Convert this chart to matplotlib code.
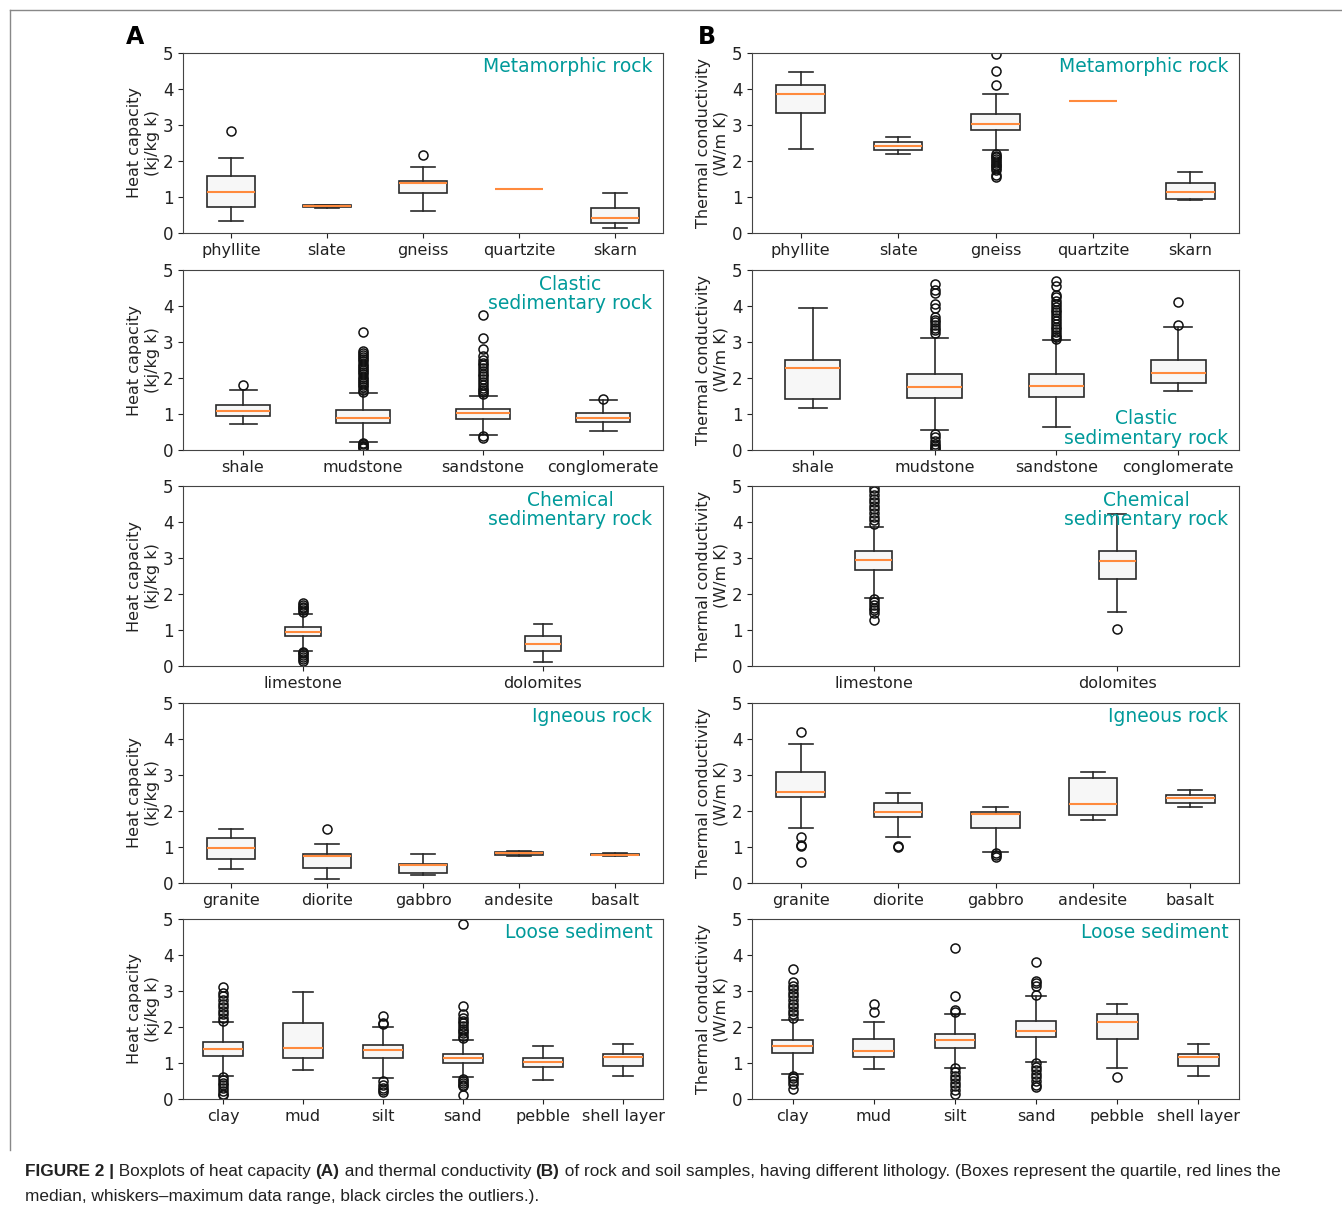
import matplotlib
matplotlib.use("Agg")
import matplotlib.pyplot as plt
from matplotlib.lines import Line2D

# box stats per category: [whislo, q1, med, q3, whishi]
meta_names = ["phyllite", "slate", "gneiss", "quartzite", "skarn"]
meta_hc = [[0.33, 0.72, 1.15, 1.57, 2.08], [0.70, 0.71, 0.74, 0.78, 0.79],
           [0.60, 1.10, 1.40, 1.45, 1.83], [1.22, 1.22, 1.22, 1.22, 1.22],
           [0.15, 0.29, 0.42, 0.70, 1.10]]
meta_hc_out = [[2.82], [], [2.18], [], []]
meta_tc = [[2.33, 3.32, 3.87, 4.10, 4.48], [2.20, 2.30, 2.42, 2.52, 2.68],
           [2.30, 2.87, 3.02, 3.30, 3.85], [3.68, 3.68, 3.68, 3.68, 3.68],
           [0.92, 0.94, 1.15, 1.38, 1.70]]
meta_tc_out = [[], [],
               [4.10, 4.50, 4.98, 2.20, 2.15, 2.10, 2.05, 2.00, 1.95, 1.90,
                1.85, 1.80, 1.75, 1.60, 1.55], [], []]

clast_names = ["shale", "mudstone", "sandstone", "conglomerate"]
clast_hc = [[0.72, 0.95, 1.08, 1.25, 1.68], [0.22, 0.75, 0.88, 1.10, 1.58],
            [0.42, 0.85, 1.03, 1.13, 1.50], [0.52, 0.78, 0.88, 1.03, 1.40]]
clast_hc_out = [[1.80],
                [1.62, 1.68, 1.74, 1.80, 1.86, 1.92, 1.98, 2.04, 2.10, 2.16,
                 2.22, 2.28, 2.34, 2.40, 2.46, 2.52, 2.58, 2.64, 2.70, 2.75,
                 3.27, 0.20, 0.16, 0.12, 0.08, 0.05],
                [1.55, 1.60, 1.66, 1.72, 1.80, 1.88, 1.96, 2.05, 2.12, 2.20,
                 2.28, 2.35, 2.42, 2.50, 2.60, 2.80, 3.12, 3.75, 0.38, 0.33],
                [1.43]]
clast_tc = [[1.18, 1.42, 2.28, 2.50, 3.95], [0.55, 1.45, 1.75, 2.12, 3.10],
            [0.65, 1.47, 1.78, 2.12, 3.05], [1.63, 1.85, 2.15, 2.50, 3.43]]
clast_tc_out = [[],
                [3.25, 3.32, 3.40, 3.48, 3.55, 3.62, 3.70, 3.95, 4.05, 4.35,
                 4.45, 4.60, 0.45, 0.35, 0.25, 0.18, 0.12, 0.06, 0.02],
                [3.08, 3.14, 3.20, 3.28, 3.35, 3.42, 3.50, 3.58, 3.66, 3.74,
                 3.82, 3.90, 3.98, 4.06, 4.15, 4.25, 4.30, 4.55, 4.70],
                [3.48, 4.10]]

chem_names = ["limestone", "dolomites"]
chem_hc = [[0.42, 0.83, 0.95, 1.07, 1.45], [0.10, 0.42, 0.62, 0.82, 1.17]]
chem_hc_out = [[1.50, 1.55, 1.60, 1.65, 1.70, 1.75, 0.40, 0.35, 0.30,
                0.25, 0.20, 0.15], []]
chem_tc = [[1.90, 2.67, 2.95, 3.20, 3.87], [1.50, 2.43, 2.92, 3.20, 4.22]]
chem_tc_out = [[3.95, 4.05, 4.15, 4.25, 4.35, 4.45, 4.55, 4.65, 4.75, 4.85,
                4.95, 1.85, 1.78, 1.70, 1.62, 1.55, 1.48, 1.27], [1.02]]

ign_names = ["granite", "diorite", "gabbro", "andesite", "basalt"]
ign_hc = [[0.40, 0.68, 0.98, 1.25, 1.50], [0.10, 0.42, 0.76, 0.80, 1.08],
          [0.22, 0.27, 0.50, 0.53, 0.80], [0.75, 0.77, 0.83, 0.86, 0.90],
          [0.75, 0.77, 0.79, 0.80, 0.82]]
ign_hc_out = [[], [1.50], [], [], []]
ign_tc = [[1.53, 2.40, 2.52, 3.08, 3.87], [1.27, 1.83, 1.98, 2.23, 2.50],
          [0.85, 1.53, 1.93, 1.98, 2.12], [1.75, 1.88, 2.20, 2.92, 3.08],
          [2.10, 2.23, 2.35, 2.45, 2.57]]
ign_tc_out = [[4.20, 1.27, 1.05, 1.02, 0.58], [1.02, 0.99],
              [0.83, 0.78, 0.72], [], []]

loose_names = ["clay", "mud", "silt", "sand", "pebble", "shell layer"]
loose_hc = [[0.63, 1.20, 1.40, 1.57, 2.13], [0.80, 1.13, 1.43, 2.12, 2.98],
            [0.57, 1.13, 1.35, 1.50, 2.00], [0.60, 1.00, 1.15, 1.25, 1.65],
            [0.52, 0.88, 1.02, 1.13, 1.48], [0.65, 0.92, 1.17, 1.25, 1.52]]
loose_hc_out = [[2.18, 2.25, 2.35, 2.45, 2.55, 2.65, 2.75, 2.85, 2.95, 3.10,
                 0.60, 0.52, 0.45, 0.38, 0.30, 0.22, 0.15, 0.10],
                [],
                [2.08, 2.12, 2.30, 0.50, 0.40, 0.30, 0.25, 0.20],
                [1.70, 1.76, 1.82, 1.88, 1.95, 2.02, 2.10, 2.18, 2.26, 2.35,
                 2.58, 4.87, 0.55, 0.50, 0.45, 0.40, 0.35, 0.10],
                [], []]
loose_tc = [[0.70, 1.27, 1.47, 1.65, 2.20], [0.83, 1.18, 1.33, 1.68, 2.13],
            [0.87, 1.42, 1.63, 1.80, 2.37], [1.03, 1.72, 1.90, 2.18, 2.85],
            [0.85, 1.67, 2.13, 2.35, 2.63], [0.65, 0.92, 1.17, 1.25, 1.52]]
loose_tc_out = [[2.25, 2.35, 2.45, 2.55, 2.65, 2.75, 2.85, 2.95, 3.05, 3.15,
                 3.25, 3.62, 0.65, 0.58, 0.50, 0.42, 0.28],
                [2.42, 2.65],
                [2.43, 2.47, 2.85, 4.20, 0.85, 0.75, 0.65, 0.55, 0.45, 0.35,
                 0.25, 0.15],
                [2.90, 3.15, 3.22, 3.27, 3.80, 1.00, 0.90, 0.80, 0.70, 0.60,
                 0.50, 0.40, 0.33],
                [0.60], []]

groups = ["Metamorphic rock", "Clastic\nsedimentary rock",
          "Chemical\nsedimentary rock", "Igneous rock", "Loose sediment"]

rows = [(meta_names, meta_hc, meta_hc_out, meta_tc, meta_tc_out),
        (clast_names, clast_hc, clast_hc_out, clast_tc, clast_tc_out),
        (chem_names, chem_hc, chem_hc_out, chem_tc, chem_tc_out),
        (ign_names, ign_hc, ign_hc_out, ign_tc, ign_tc_out),
        (loose_names, loose_hc, loose_hc_out, loose_tc, loose_tc_out)]

W, H = 1342, 1211
fig = plt.figure(figsize=(W / 100, H / 100), dpi=100)
teal = "#009a9a"


def make_stats(names, boxes, outs):
    st = []
    for n, b, o in zip(names, boxes, outs):
        st.append(dict(label=n, whislo=b[0], q1=b[1], med=b[2], q3=b[3],
                       whishi=b[4], fliers=o))
    return st


def draw_panel(ax, names, boxes, outs, ylabel, title, title_bottom=False):
    ax.bxp(make_stats(names, boxes, outs), patch_artist=True,
           boxprops=dict(facecolor="#f7f7f7", edgecolor="#2a2a2a", lw=1.2),
           medianprops=dict(color="#ff8a3d", lw=1.5),
           whiskerprops=dict(color="#2a2a2a", lw=1.2),
           capprops=dict(color="#2a2a2a", lw=1.2),
           flierprops=dict(marker="o", markerfacecolor="none",
                           markeredgecolor="#111111", markersize=6.5,
                           markeredgewidth=1.1))
    ax.set_xlim(0.5, len(names) + 0.5)
    ax.set_ylim(0, 5)
    ax.set_yticks([0, 1, 2, 3, 4, 5])
    ax.tick_params(axis="x", labelsize=11.5, colors="#222222")
    ax.tick_params(axis="y", labelsize=12, colors="#222222")
    ax.set_ylabel(ylabel, fontsize=11.5, color="#222222", labelpad=2)
    for s in ax.spines.values():
        s.set_color("#444444")
    if title_bottom:
        ax.text(0.978, 0.01, title, transform=ax.transAxes, ha="right",
                va="bottom", ma="center", fontsize=13.5, color=teal,
                linespacing=1.05)
    else:
        ax.text(0.978, 0.975, title, transform=ax.transAxes, ha="right",
                va="top", ma="center", fontsize=13.5, color=teal,
                linespacing=1.05)


tops = [53, 270, 486, 703, 919]
for i, (names, hc, hc_out, tc, tc_out) in enumerate(rows):
    b = 1 - (tops[i] + 180) / H
    axa = fig.add_axes([183 / W, b, 480 / W, 180 / H])
    draw_panel(axa, names, hc, hc_out, "Heat capacity\n(kj/kg k)", groups[i])
    axb = fig.add_axes([752 / W, b, 487 / W, 180 / H])
    draw_panel(axb, names, tc, tc_out, "Thermal conductivity\n(W/m K)",
               groups[i], title_bottom=(i == 1))

fig.text(135 / W, 1 - 37 / H, "A", fontsize=17, fontweight="bold",
         ha="center", va="center")
fig.text(707 / W, 1 - 37 / H, "B", fontsize=17, fontweight="bold",
         ha="center", va="center")

# frame around the figure
fig.add_artist(Line2D([10 / W, 10 / W], [1 - 10 / H, 1 - 1150 / H],
                      color="#888888", lw=1))
fig.add_artist(Line2D([10 / W, 1.0], [1 - 10 / H, 1 - 10 / H],
                      color="#888888", lw=1))

# caption, drawn piece by piece for the bold parts
cap_font = ["Liberation Sans Narrow", "Liberation Sans", "DejaVu Sans"]
line1 = [("FIGURE 2 |", "bold"), (" Boxplots of heat capacity ", "normal"),
         ("(A)", "bold"), (" and thermal conductivity ", "normal"),
         ("(B)", "bold"),
         (" of rock and soil samples, having different lithology. (Boxes "
          "represent the quartile, red lines the", "normal")]
line2 = [("median, whiskers\u2013maximum data range, black circles the "
          "outliers.).", "normal")]

fig.canvas.draw()
renderer = fig.canvas.get_renderer()


def draw_line(pieces, y, size):
    x = 25
    for txt, wt in pieces:
        t = fig.text(x / W, 1 - y / H, txt, fontsize=size, fontweight=wt,
                     family=cap_font, ha="left", va="baseline",
                     color="#222222")
        x += t.get_window_extent(renderer).width
    return x - 25


# measure at a test size then scale to the target width
probe = []
tw = 0
for txt, wt in line1:
    t = fig.text(0, 0, txt, fontsize=12, fontweight=wt, family=cap_font)
    tw += t.get_window_extent(renderer).width
    probe.append(t)
for t in probe:
    t.remove()
size = 12 * 1255 / tw

draw_line(line1, 1176, size)
draw_line(line2, 1201, size)

fig.savefig("out.png", dpi=100)
